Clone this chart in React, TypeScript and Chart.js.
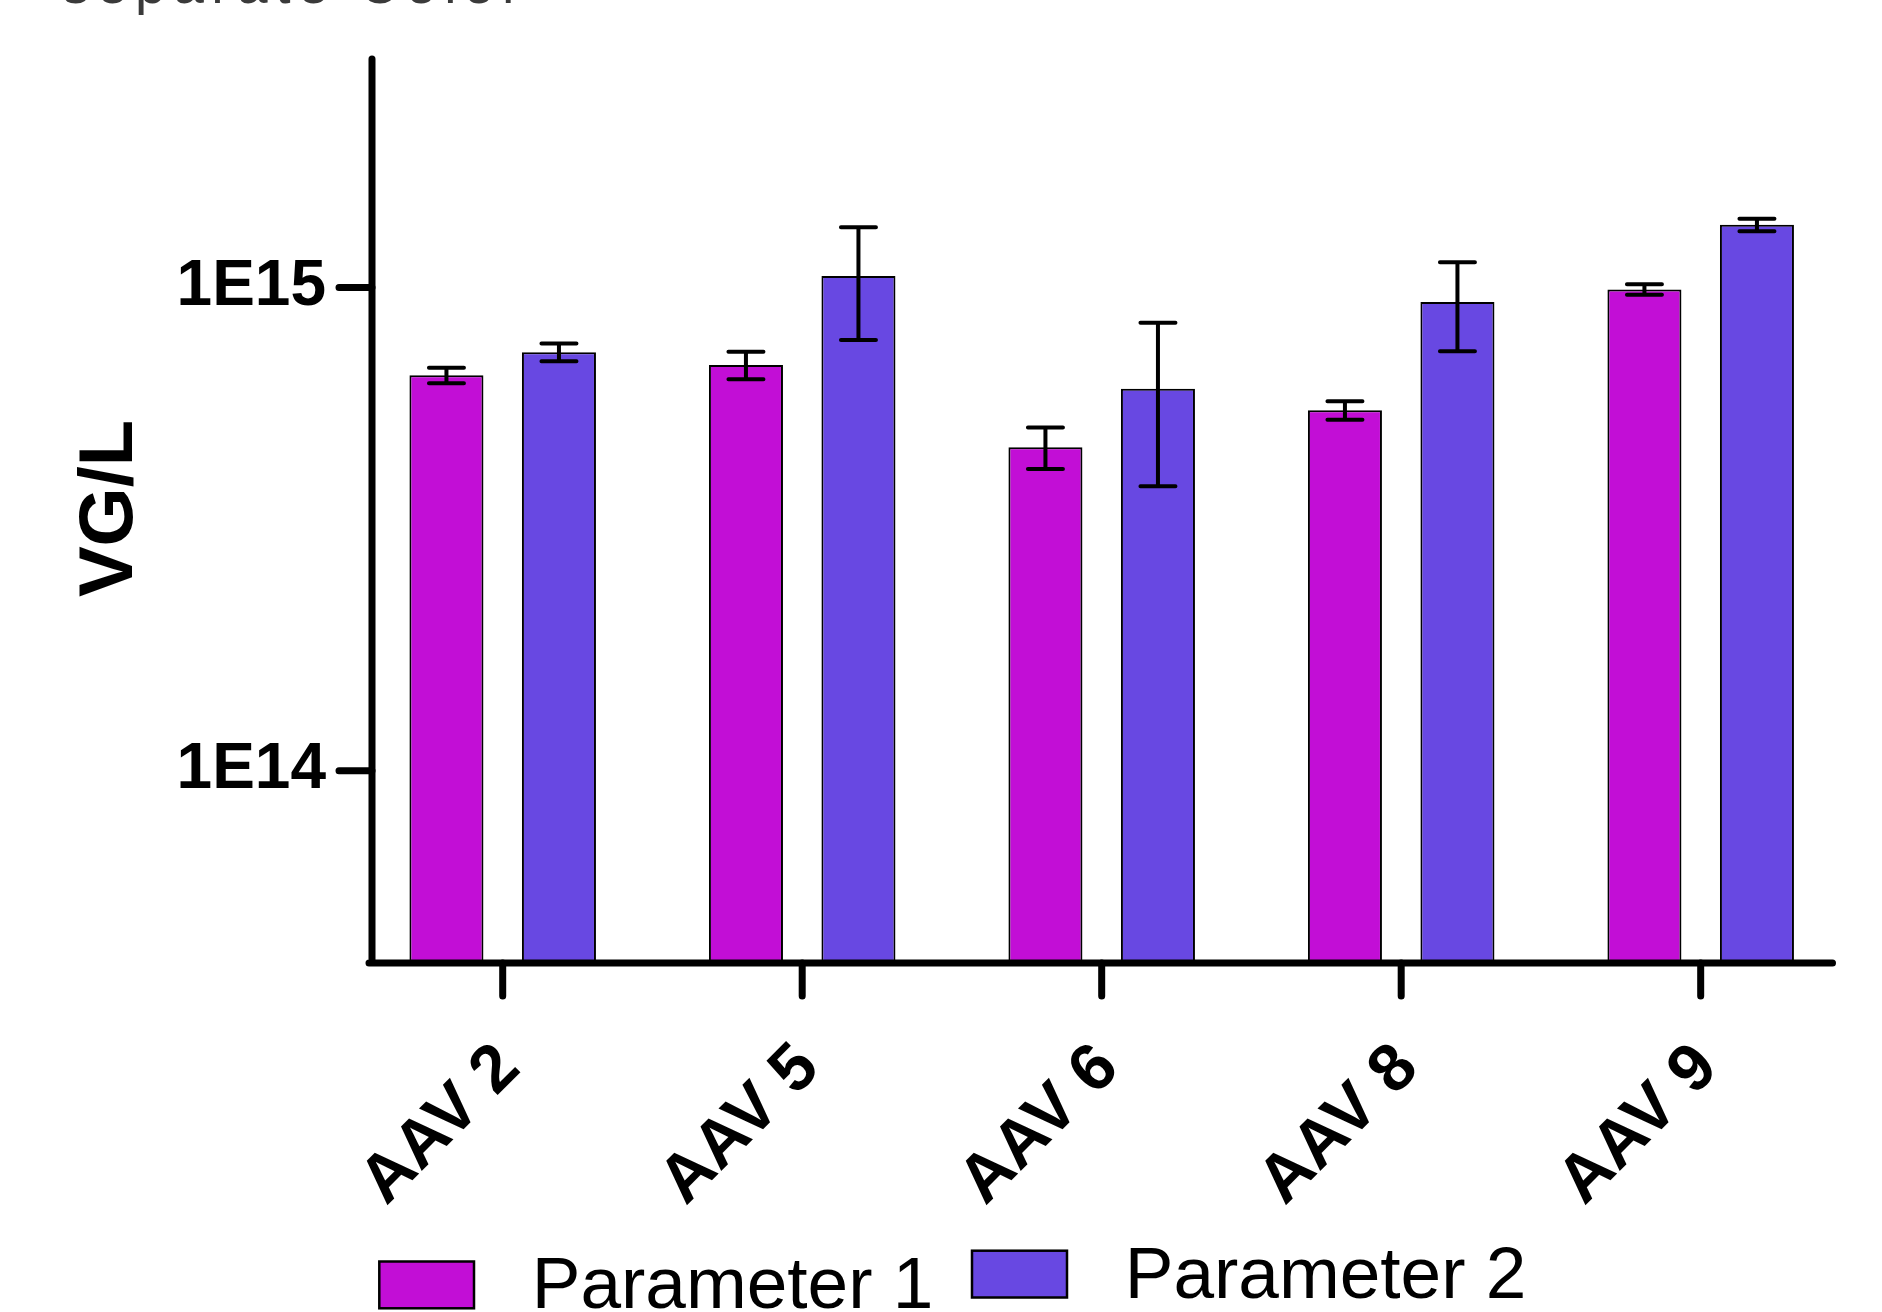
import React, { useEffect, useRef } from 'react';
import { Chart, registerables } from 'chart.js';

Chart.register(...registerables);

// ---- data ----
const categories = ['AAV 2', 'AAV 5', 'AAV 6', 'AAV 8', 'AAV 9'];
const seriesLabels = ['Parameter 1', 'Parameter 2'];
const param1Means = [6.58e14, 6.91e14, 4.67e14, 5.57e14, 9.91e14];
const param1SD = [0.24e14, 0.45e14, 0.46e14, 0.245e14, 0.25e14];
const param2Means = [7.35e14, 1.056e15, 6.17e14, 9.33e14, 1.348e15];
const param2SD = [0.31e14, 2.77e14, 2.29e14, 1.95e14, 0.4e14];
const yTickValues = [1e14, 1e15];
const yTickLabels = ['1E14', '1E15'];
const yAxisTitle = 'VG/L';
const headerText = 'separate Color';

const seriesColors = ['#C20ED6', '#6848E2'];
const FONT = '"Liberation Sans", Arial, Helvetica, sans-serif';

const overlayPlugin = {
  id: 'overlay',
  afterDatasetsDraw(chart: any) {
    const ctx = chart.ctx;
    const ys = chart.scales.y;
    const xs = chart.scales.x;
    const area = chart.chartArea;
    ctx.save();
    ctx.strokeStyle = '#000';
    ctx.lineCap = 'round';
    // error bars
    chart.data.datasets.forEach((ds: any, di: number) => {
      const meta = chart.getDatasetMeta(di);
      meta.data.forEach((bar: any, i: number) => {
        const v = ds.data[i].y;
        const e = ds.errors[i];
        const top = ys.getPixelForValue(v + e);
        const bot = ys.getPixelForValue(v - e);
        ctx.lineWidth = 4;
        ctx.beginPath();
        ctx.moveTo(bar.x, top);
        ctx.lineTo(bar.x, bot);
        ctx.moveTo(bar.x - 17.5, top);
        ctx.lineTo(bar.x + 17.5, top);
        ctx.moveTo(bar.x - 17.5, bot);
        ctx.lineTo(bar.x + 17.5, bot);
        ctx.stroke();
      });
    });
    // axes
    ctx.lineWidth = 7;
    ctx.beginPath();
    ctx.moveTo(area.left, area.top + 2);
    ctx.lineTo(area.left, area.bottom);
    ctx.moveTo(area.left - 3, area.bottom);
    ctx.lineTo(area.right - 3.5, area.bottom);
    ctx.stroke();
    // y tick marks
    ctx.beginPath();
    yTickValues.forEach((v) => {
      const py = ys.getPixelForValue(v);
      ctx.moveTo(area.left - 33, py);
      ctx.lineTo(area.left, py);
    });
    // x tick marks
    categories.forEach((_, i) => {
      const px = xs.getPixelForValue(i);
      ctx.moveTo(px, area.bottom);
      ctx.lineTo(px, area.bottom + 33);
    });
    ctx.stroke();
    ctx.restore();
  },
  afterDraw(chart: any) {
    const ctx = chart.ctx;
    ctx.save();
    // clipped header text
    ctx.fillStyle = '#3a3a3a';
    ctx.font = `55px ${FONT}`;
    (ctx as any).letterSpacing = '7.5px';
    ctx.textAlign = 'left';
    ctx.textBaseline = 'alphabetic';
    ctx.fillText(headerText, 62, 3);
    (ctx as any).letterSpacing = '0px';

    // y axis title
    ctx.fillStyle = '#000';
    ctx.font = `bold 76px ${FONT}`;
    ctx.translate(131.5, 508.4);
    ctx.rotate(-Math.PI / 2);
    ctx.textAlign = 'center';
    ctx.fillText(yAxisTitle, 0, 0);
    ctx.setTransform(1, 0, 0, 1, 0, 0);

    // legend
    const items = [
      { box: [379.3, 1261.5, 94.7, 46.8], tx: 531.7, ty: 1308.3 },
      { box: [972, 1250.7, 95, 46.8], tx: 1124.7, ty: 1297.5 },
    ];
    chart.data.datasets.forEach((ds: any, i: number) => {
      const it = items[i];
      ctx.fillStyle = ds.backgroundColor;
      ctx.fillRect(it.box[0], it.box[1], it.box[2], it.box[3]);
      ctx.strokeStyle = '#000';
      ctx.lineWidth = 2.5;
      ctx.strokeRect(it.box[0], it.box[1], it.box[2], it.box[3]);
      ctx.fillStyle = '#000';
      ctx.font = `73px ${FONT}`;
      ctx.textAlign = 'left';
      ctx.textBaseline = 'alphabetic';
      ctx.fillText(ds.label, it.tx, it.ty);
    });
    ctx.restore();
  },
};

export default function App() {
  const ref = useRef<HTMLCanvasElement | null>(null);

  useEffect(() => {
    if (!ref.current) return;
    const mk = (means: number[], sd: number[], idx: number) => ({
      label: seriesLabels[idx],
      data: means.map((v, i) => ({ x: i, y: v })),
      errors: sd,
      backgroundColor: seriesColors[idx],
      borderColor: '#000',
      borderWidth: 2,
      categoryPercentage: 0.7513,
      barPercentage: 0.658,
    });
    const chart = new Chart(ref.current, {
      type: 'bar',
      data: {
        datasets: [mk(param1Means, param1SD, 0), mk(param2Means, param2SD, 1)] as any,
      },
      options: {
        animation: false,
        responsive: false,
        devicePixelRatio: 1,
        layout: { padding: { left: 0, top: 57, right: 46, bottom: 0 } },
        plugins: { legend: { display: false }, tooltip: { enabled: false } },
        scales: {
          x: {
            type: 'linear',
            min: -0.4364,
            max: 4.4518,
            offset: false,
            bounds: 'data',
            grid: { display: false, drawTicks: false, offset: false },
            border: { display: false },
            afterBuildTicks: (scale: any) => {
              scale.ticks = categories.map((_, i) => ({ value: i }));
            },
            afterFit: (scale: any) => {
              scale.height = 1312 - 963;
              scale.paddingLeft = 0;
              scale.paddingRight = 0;
              scale.paddingTop = 0;
              scale.paddingBottom = 0;
            },
            ticks: {
              autoSkip: false,
              minRotation: 45,
              maxRotation: 45,
              padding: 66,
              labelOffset: 6.5,
              color: '#000',
              font: { family: FONT, size: 67, weight: 'bold' },
              callback: (v: any) => categories[Math.round(Number(v))] ?? '',
            },
          },
          y: {
            type: 'logarithmic',
            min: 4e13,
            max: 3e15,
            bounds: 'data',
            grid: { display: false, drawTicks: false },
            border: { display: false },
            afterBuildTicks: (scale: any) => {
              scale.ticks = yTickValues.map((v) => ({ value: v }));
            },
            afterFit: (scale: any) => {
              scale.width = 372;
              scale.paddingLeft = 0;
              scale.paddingRight = 0;
              scale.paddingTop = 0;
              scale.paddingBottom = 0;
            },
            ticks: {
              padding: 46,
              color: '#000',
              font: { family: FONT, size: 64, weight: 'bold' },
              callback: (v: any) => {
                const idx = yTickValues.indexOf(Number(v));
                return idx >= 0 ? yTickLabels[idx] : '';
              },
            },
          },
        },
      } as any,
      plugins: [overlayPlugin],
    });
    return () => chart.destroy();
  }, []);

  return (
    <div style={{ position: 'absolute', left: 0, top: 0, width: 1882, height: 1312, background: '#fff', overflow: 'hidden' }}>
      <canvas ref={ref} width={1882} height={1312} style={{ display: 'block', width: 1882, height: 1312 }} />
    </div>
  );
}
